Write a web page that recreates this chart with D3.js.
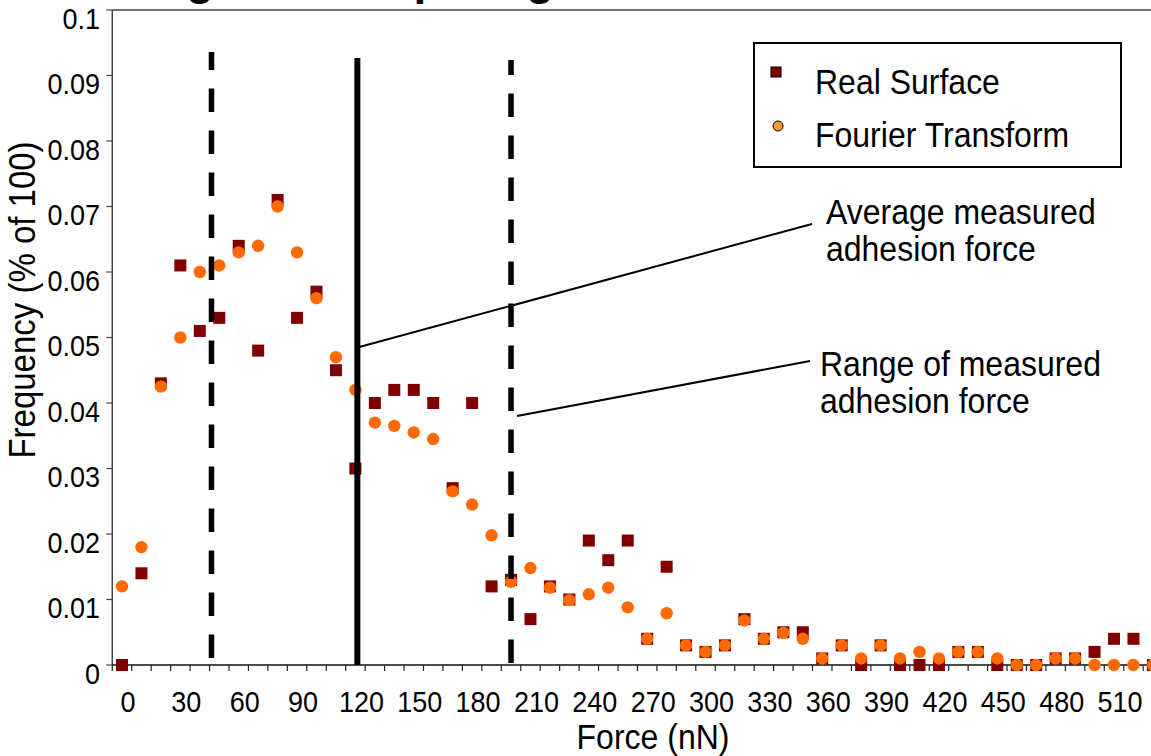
<!DOCTYPE html>
<html>
<head>
<meta charset="utf-8">
<script src="https://cdn.jsdelivr.net/npm/d3@7"></script>
<style>
  html, body { margin: 0; padding: 0; background: #fff; }
  svg { display: block; font-family: "Liberation Sans", Arial, sans-serif; }
</style>
</head>
<body>
<svg id="chart" width="1151" height="756"></svg>
<script>
// force bins (nN)
const forces = [0, 10, 20, 30, 40, 50, 60, 70, 80, 90, 100, 110, 120, 130, 140, 150, 160, 170, 180, 190,
  200, 210, 220, 230, 240, 250, 260, 270, 280, 290, 300, 310, 320, 330, 340, 350, 360, 370, 380, 390,
  400, 410, 420, 430, 440, 450, 460, 470, 480, 490, 500, 510, 520, 530];

const realSurface = [0, 0.014, 0.043, 0.061, 0.051, 0.053, 0.064, 0.048, 0.071, 0.053,
  0.057, 0.045, 0.030, 0.040, 0.042, 0.042, 0.040, 0.027, 0.040, 0.012,
  0.013, 0.007, 0.012, 0.010, 0.019, 0.016, 0.019, 0.004, 0.015, 0.003,
  0.002, 0.003, 0.007, 0.004, 0.005, 0.005, 0.001, 0.003, 0, 0.003,
  0, 0, 0, 0.002, 0.002, 0, 0, 0, 0.001, 0.001,
  0.002, 0.004, 0.004, 0];

const fourier = [0.012, 0.018, 0.0425, 0.050, 0.060, 0.061, 0.063, 0.064, 0.070, 0.063,
  0.056, 0.047, 0.042, 0.037, 0.0365, 0.0355, 0.0345, 0.0265, 0.0245, 0.0198,
  0.0127, 0.0148, 0.0118, 0.0099, 0.0108, 0.0118, 0.0088, 0.004, 0.0079, 0.003,
  0.002, 0.003, 0.0068, 0.004, 0.0049, 0.004, 0.001, 0.003, 0.001, 0.003,
  0.001, 0.002, 0.001, 0.002, 0.002, 0.001, 0, 0, 0.001, 0.001,
  0, 0, 0, 0];

const xTickLabels = [0, 30, 60, 90, 120, 150, 180, 210, 240, 270, 300, 330, 360, 390, 420, 450, 480, 510];
const yTicks = [0, 0.01, 0.02, 0.03, 0.04, 0.05, 0.06, 0.07, 0.08, 0.09, 0.1];

// range of measured adhesion force (dashed) and its average (solid)
const rangeForces = [46, 200];
const averageForce = 121;

const svg = d3.select('#chart');

const x = d3.scaleLinear().domain([0, 510]).range([122, 1114]);
const y = d3.scaleLinear().domain([0, 0.1]).range([665, 10]);
const x0 = x(-5);

// text placed at (tx, ty), stretched a little vertically like the original export
function label(sel, tx, ty, size) {
  return sel.attr('transform', `translate(${tx},${ty}) scale(1,1.1)`)
    .attr('font-size', size);
}

// title (cut off by the top edge)
svg.append('text')
  .attr('x', 71).attr('y', -6)
  .attr('font-size', 46).attr('font-weight', 'bold')
  .text('Histogram Comparing Adhesion Forces');

// plot frame: top border, y axis, x axis
svg.append('line').attr('x1', x0).attr('x2', 1151).attr('y1', y(0.1)).attr('y2', y(0.1))
  .attr('stroke', '#444').attr('stroke-width', 1.5);
svg.append('line').attr('x1', x0).attr('x2', x0).attr('y1', y(0.1)).attr('y2', y(0))
  .attr('stroke', '#444').attr('stroke-width', 1.5);
svg.append('line').attr('x1', x0).attr('x2', 1151).attr('y1', y(0)).attr('y2', y(0))
  .attr('stroke', '#111').attr('stroke-width', 1.5);

// y ticks + labels
svg.append('g').selectAll('line').data(yTicks).enter().append('line')
  .attr('x1', x0 - 6).attr('x2', x0)
  .attr('y1', d => y(d)).attr('y2', d => y(d))
  .attr('stroke', '#444').attr('stroke-width', 1.2);
svg.append('g').selectAll('text').data(yTicks).enter().append('text')
  .each(function (d) { label(d3.select(this), 100, y(d) + 18.5, 27); })
  .attr('text-anchor', 'end')
  .text(d => d === 0 ? '0' : String(+d.toFixed(2)));

// x ticks between bins
const binEdges = forces.map(f => f - 5);
svg.append('g').selectAll('line').data(binEdges).enter().append('line')
  .attr('x1', d => x(d)).attr('x2', d => x(d))
  .attr('y1', y(0)).attr('y2', y(0) + 6)
  .attr('stroke', '#222').attr('stroke-width', 1.2);
svg.append('g').selectAll('text').data(xTickLabels).enter().append('text')
  .each(function (d) { label(d3.select(this), x(d) + 6, 712, 27); })
  .attr('text-anchor', 'middle')
  .text(d => d);

// axis titles
label(svg.append('text'), 653, 749, 32)
  .attr('text-anchor', 'middle')
  .text('Force (nN)');
svg.append('text')
  .attr('transform', 'translate(35,300) rotate(-90) scale(1,1.1)')
  .attr('text-anchor', 'middle').attr('font-size', 33)
  .text('Frequency (% of 100)');

// series
const ms = 12;
svg.append('g').selectAll('rect').data(forces).enter().append('rect')
  .attr('x', (d, i) => x(d) - ms / 2)
  .attr('y', (d, i) => y(realSurface[i]) - ms / 2)
  .attr('width', ms).attr('height', ms)
  .attr('fill', '#800000');
svg.append('g').selectAll('circle').data(forces).enter().append('circle')
  .attr('cx', d => x(d))
  .attr('cy', (d, i) => y(fourier[i]))
  .attr('r', 6.2)
  .attr('fill', '#ff6a00');

// dashed range lines and solid average line (drawn over the markers)
const rangeTops = [52, 60];
const rangeBottoms = [658, 663];
rangeForces.forEach((f, i) => {
  svg.append('line')
    .attr('x1', x(f)).attr('x2', x(f))
    .attr('y1', rangeBottoms[i]).attr('y2', rangeTops[i])
    .attr('stroke', '#000').attr('stroke-width', 5.5)
    .attr('stroke-dasharray', '23.5 18.5');
});
svg.append('line')
  .attr('x1', x(averageForce)).attr('x2', x(averageForce))
  .attr('y1', 58).attr('y2', 665)
  .attr('stroke', '#000').attr('stroke-width', 6);

// callouts
svg.append('line').attr('x1', x(averageForce) + 2).attr('y1', 347).attr('x2', 812).attr('y2', 224)
  .attr('stroke', '#000').attr('stroke-width', 2);
svg.append('line').attr('x1', x(rangeForces[1]) + 6).attr('y1', 416).attr('x2', 810).attr('y2', 361)
  .attr('stroke', '#000').attr('stroke-width', 2);

const callouts = [
  { x: 826, y: 224, lines: ['Average measured', 'adhesion force'] },
  { x: 820, y: 376, lines: ['Range of measured', 'adhesion force'] }
];
callouts.forEach(c => {
  c.lines.forEach((s, i) => {
    label(svg.append('text'), c.x, c.y + i * 37, 32).text(s);
  });
});

// legend
const lg = svg.append('g');
lg.append('rect').attr('x', 754).attr('y', 43).attr('width', 367).attr('height', 124)
  .attr('fill', '#fff').attr('stroke', '#000').attr('stroke-width', 2);
lg.append('rect').attr('x', 771).attr('y', 67).attr('width', 10).attr('height', 10)
  .attr('fill', '#800000').attr('stroke', '#000').attr('stroke-width', 1);
lg.append('circle').attr('cx', 778).attr('cy', 126).attr('r', 5)
  .attr('fill', '#ff9933').attr('stroke', '#000').attr('stroke-width', 1);
label(lg.append('text'), 815, 94, 32).text('Real Surface');
label(lg.append('text'), 815, 147, 32).text('Fourier Transform');
</script>
</body>
</html>
